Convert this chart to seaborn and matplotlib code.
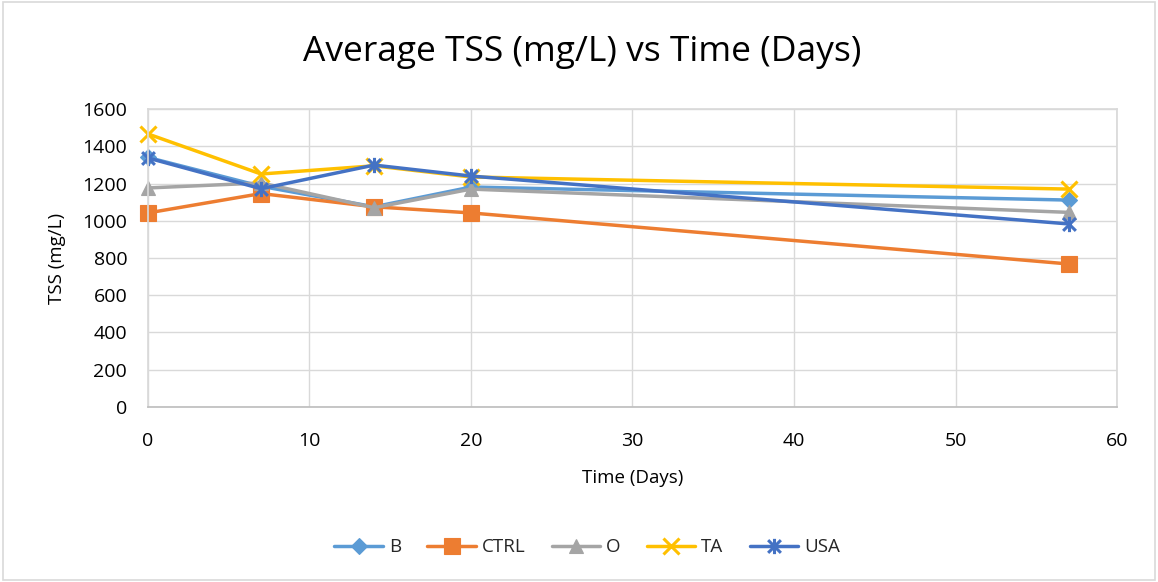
import matplotlib
matplotlib.use("Agg")
import matplotlib.pyplot as plt
from matplotlib.patches import Rectangle
from matplotlib.path import Path
import seaborn as sns
import pandas as pd

days = [0, 7, 14, 20, 57]
series_names = ["B", "CTRL", "O", "TA", "USA"]
tss_b = [1340, 1185, 1075, 1181, 1111]
tss_ctrl = [1042, 1146, 1075, 1042, 768]
tss_o = [1176, 1203, 1070, 1170, 1045]
tss_ta = [1466, 1251, 1295, 1235, 1170]
tss_usa = [1337, 1172, 1299, 1240, 983]

# asterisk: an "x" crossed by a vertical stroke
star_path = Path(
    [(-1, -1), (1, 1), (-1, 1), (1, -1), (0, -1.2), (0, 1.2)],
    [Path.MOVETO, Path.LINETO, Path.MOVETO, Path.LINETO, Path.MOVETO, Path.LINETO],
)

colors = {"B": "#5B9BD5", "CTRL": "#ED7D31", "O": "#A5A5A5", "TA": "#FFC000", "USA": "#4472C4"}
markers = {"B": "D", "CTRL": "s", "O": "^", "TA": "x", "USA": star_path}
sizes = {"B": 8, "CTRL": 12, "O": 10, "TA": 11, "USA": 11}

frames = []
for name, vals in zip(series_names, [tss_b, tss_ctrl, tss_o, tss_ta, tss_usa]):
    frames.append(pd.DataFrame({"Day": days, "TSS": vals, "Series": name}))
df = pd.concat(frames, ignore_index=True)

sns.set_theme(style="white")
plt.rcParams["font.family"] = ["Open Sans", "DejaVu Sans"]

fig = plt.figure(figsize=(11.58, 5.82), dpi=100)
ax = fig.add_axes([0.1278, 0.3007, 0.8368, 0.512])

for name in series_names:
    sub = df[df["Series"] == name]
    sns.lineplot(data=sub, x="Day", y="TSS", ax=ax, color=colors[name],
                 marker=markers[name], markersize=sizes[name], linewidth=2.5,
                 markeredgewidth=2.2 if name in ("TA", "USA") else 0.8,
                 markeredgecolor=colors[name], label=name, sort=False,
                 clip_on=False)

ax.set_xlim(0, 60)
ax.set_ylim(0, 1600)
ax.set_xticks(range(0, 61, 10))
ax.set_yticks(range(0, 1601, 200))
ax.grid(True, color="#D9D9D9", linewidth=1)
ax.set_axisbelow(True)
for side in ["top", "right", "left"]:
    ax.spines[side].set_color("#D9D9D9")
ax.spines["bottom"].set_color("#BFBFBF")
ax.tick_params(axis="both", labelsize=14, length=0)
ax.tick_params(axis="x", pad=18)
ax.tick_params(axis="y", pad=15)
for lbl in ax.get_xticklabels() + ax.get_yticklabels():
    lbl.set_color("#000000")

ax.set_xlabel("Time (Days)", fontsize=13.5, color="#000000")
ax.set_ylabel("TSS (mg/L)", fontsize=13.5, color="#000000")
ax.xaxis.set_label_coords(0.5, -0.238)
ax.xaxis.label.set_va("center")
ax.yaxis.set_label_coords(-0.094, 0.5)
ax.yaxis.label.set_va("center")

fig.text(0.503, 0.911, "Average TSS (mg/L) vs Time (Days)", fontsize=25.5,
         color="#000000", ha="center", va="center")

handles, labels = ax.get_legend_handles_labels()
ax.get_legend().remove()
fig.legend(handles, labels, loc="center", bbox_to_anchor=(0.507, 0.06), ncol=5,
           frameon=False, fontsize=13.5, handlelength=2.6, columnspacing=1.4,
           handletextpad=0.3)

fig.patches.append(Rectangle((0.003, 0.003), 0.994, 0.994, transform=fig.transFigure,
                             fill=False, edgecolor="#D9D9D9", linewidth=1.2))

fig.savefig("out.png", dpi=100, facecolor="white")
